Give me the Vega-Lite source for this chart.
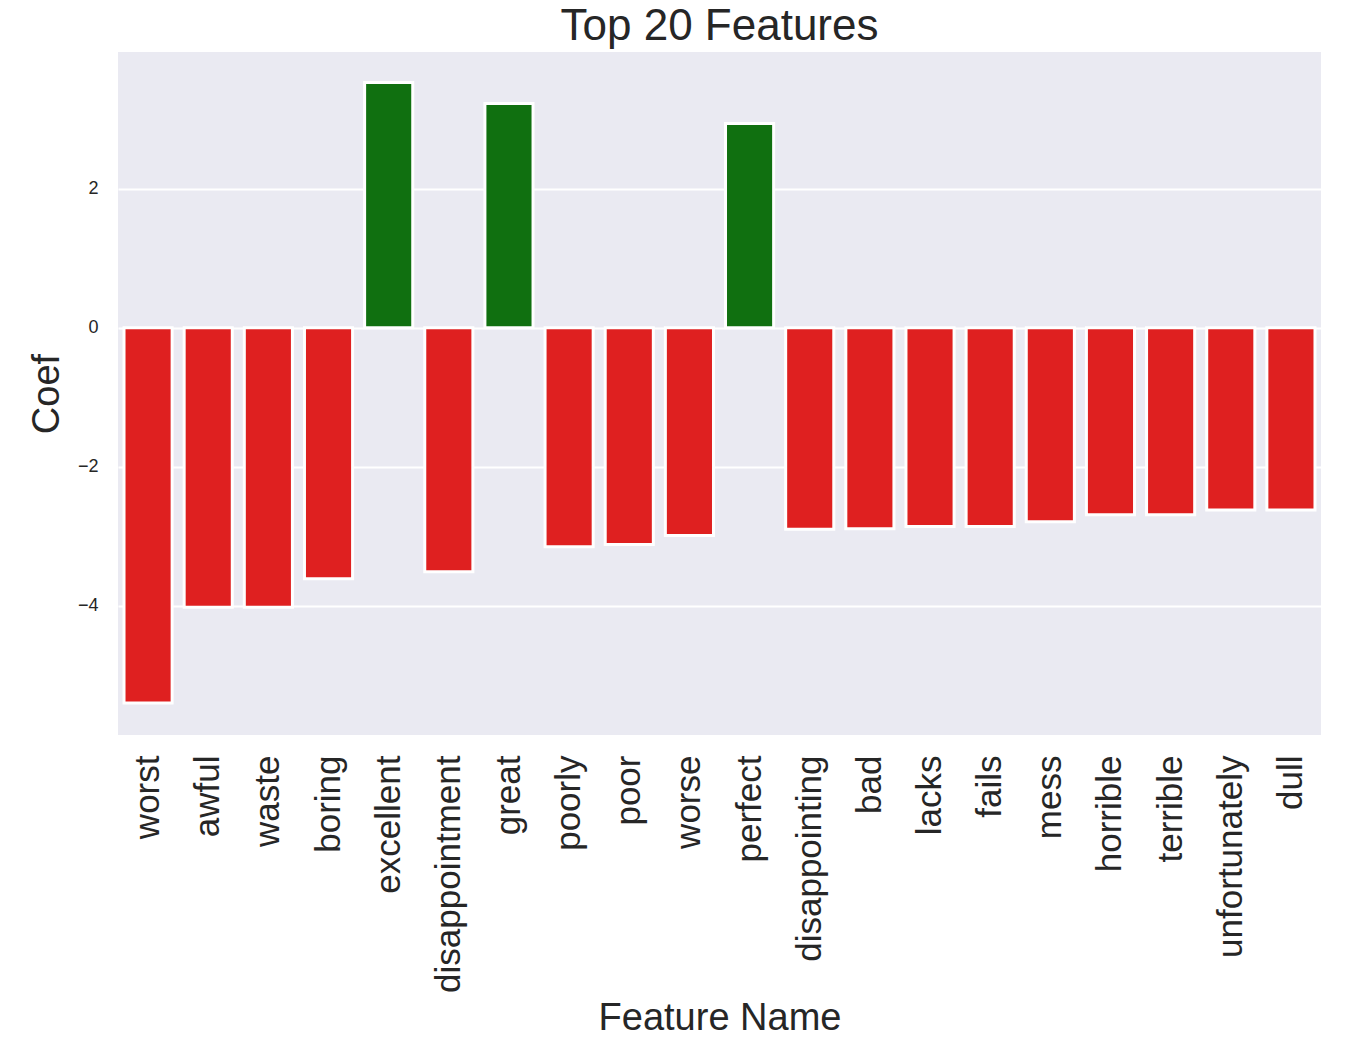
{
  "$schema": "https://vega.github.io/schema/vega-lite/v6.json",
  "width": 1203,
  "height": 683,
  "autosize": {"type": "none"},
  "padding": {"left": 118, "top": 52, "right": 33, "bottom": 311},
  "background": "white",
  "title": {
    "text": "Top 20 Features",
    "font": "Liberation Sans",
    "fontSize": 44,
    "fontWeight": "normal",
    "color": "#262626",
    "anchor": "middle",
    "offset": 3
  },
  "data": {
    "values": [
      {"feature": "worst", "coef": -5.40, "sign": "negative"},
      {"feature": "awful", "coef": -4.02, "sign": "negative"},
      {"feature": "waste", "coef": -4.02, "sign": "negative"},
      {"feature": "boring", "coef": -3.61, "sign": "negative"},
      {"feature": "excellent", "coef": 3.53, "sign": "positive"},
      {"feature": "disappointment", "coef": -3.51, "sign": "negative"},
      {"feature": "great", "coef": 3.23, "sign": "positive"},
      {"feature": "poorly", "coef": -3.15, "sign": "negative"},
      {"feature": "poor", "coef": -3.12, "sign": "negative"},
      {"feature": "worse", "coef": -2.99, "sign": "negative"},
      {"feature": "perfect", "coef": 2.94, "sign": "positive"},
      {"feature": "disappointing", "coef": -2.90, "sign": "negative"},
      {"feature": "bad", "coef": -2.89, "sign": "negative"},
      {"feature": "lacks", "coef": -2.86, "sign": "negative"},
      {"feature": "fails", "coef": -2.86, "sign": "negative"},
      {"feature": "mess", "coef": -2.79, "sign": "negative"},
      {"feature": "horrible", "coef": -2.69, "sign": "negative"},
      {"feature": "terrible", "coef": -2.69, "sign": "negative"},
      {"feature": "unfortunately", "coef": -2.62, "sign": "negative"},
      {"feature": "dull", "coef": -2.62, "sign": "negative"}
    ]
  },
  "mark": {"type": "bar", "stroke": "white", "strokeWidth": 3},
  "encoding": {
    "x": {
      "field": "feature",
      "type": "nominal",
      "sort": null,
      "scale": {"paddingInner": 0.2, "paddingOuter": 0.1},
      "axis": {
        "title": "Feature Name",
        "labelAngle": -90,
        "labelFontSize": 35,
        "labelPadding": 20,
        "labelLimit": 0,
        "titleY": 294,
        "titleBaseline": "alphabetic",
        "grid": false
      }
    },
    "y": {
      "field": "coef",
      "type": "quantitative",
      "scale": {"domain": [-5.86, 3.97], "nice": false, "zero": false},
      "axis": {
        "title": "Coef",
        "values": [-4, -2, 0, 2],
        "labelFontSize": 18,
        "labelPadding": 20,
        "titlePadding": 11,
        "grid": true
      }
    },
    "color": {
      "field": "sign",
      "type": "nominal",
      "scale": {"domain": ["negative", "positive"], "range": ["#df2020", "#107010"]},
      "legend": null
    }
  },
  "config": {
    "view": {"fill": "#eaeaf2", "stroke": null},
    "axis": {
      "domain": false,
      "ticks": false,
      "tickSize": 0,
      "gridColor": "white",
      "gridWidth": 1.8,
      "gridOpacity": 1,
      "labelFont": "Liberation Sans",
      "labelColor": "#262626",
      "titleFont": "Liberation Sans",
      "titleFontSize": 38,
      "titleFontWeight": "normal",
      "titleColor": "#262626"
    }
  }
}
